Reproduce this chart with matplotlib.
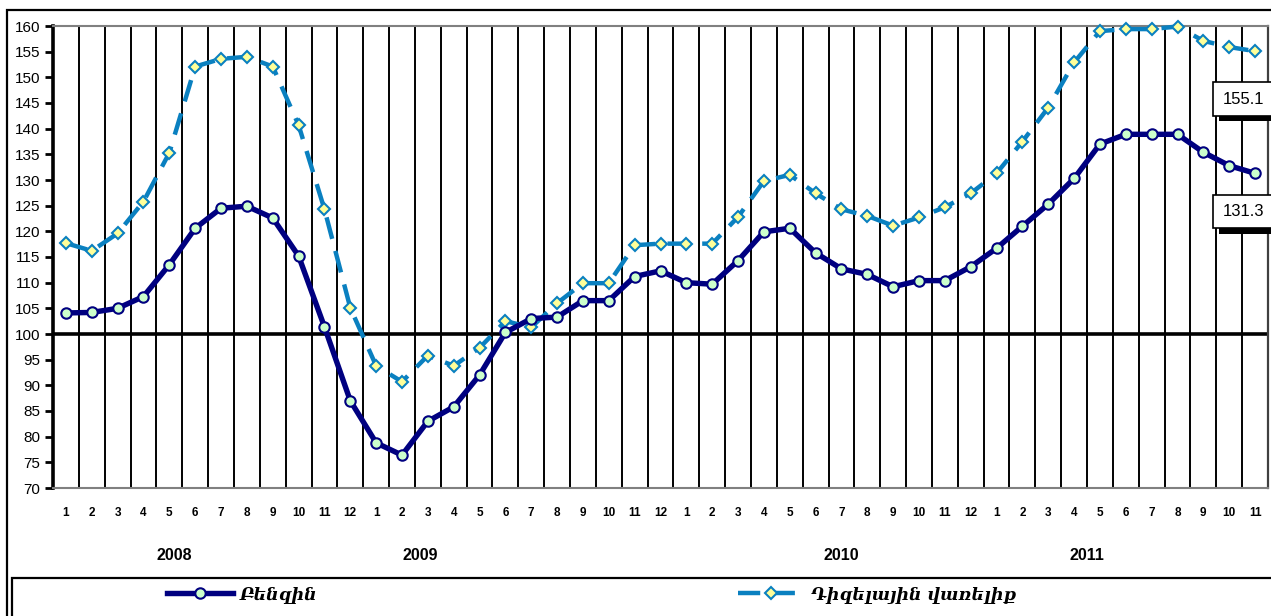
import numpy as np
import matplotlib
matplotlib.use("Agg")
import matplotlib.pyplot as plt
import matplotlib.patheffects as pe
from matplotlib.patches import Rectangle

months = list(range(1, 13)) * 3 + list(range(1, 12))
years = ["2008", "2009", "2010", "2011"]

benzin = [104.1, 104.2, 105.0, 107.3, 113.5, 120.6, 124.5, 124.9, 122.6, 115.2, 101.4, 87.0,
          78.8, 76.4, 83.0, 85.8, 92.0, 100.3, 103.0, 103.3, 106.5, 106.5, 111.2, 112.3,
          110.0, 109.7, 114.3, 119.9, 120.6, 115.8, 112.7, 111.6, 109.2, 110.4, 110.4, 113.1,
          116.7, 121.0, 125.3, 130.3, 137.0, 138.9, 138.9, 138.9, 135.4, 132.8, 131.3]
diesel = [117.7, 116.2, 119.6, 125.8, 135.3, 152.1, 153.6, 154.0, 152.1, 140.7, 124.3, 105.1,
          93.8, 90.7, 95.8, 93.8, 97.3, 102.5, 101.3, 106.0, 109.9, 109.9, 117.3, 117.6,
          117.6, 117.6, 122.8, 129.8, 131.0, 127.4, 124.3, 123.0, 121.1, 122.7, 124.7, 127.4,
          131.3, 137.5, 144.1, 152.9, 159.0, 159.4, 159.4, 159.9, 157.1, 155.9, 155.1]
labels = ["Բենզին", "Դիզելային վառելիք"]

year_x = [4.2, 13.7, 30.0, 39.5]

plt.rcParams['font.family'] = ['Liberation Sans', 'DejaVu Sans']

W, H = 1271, 616
fig = plt.figure(figsize=(W / 100, H / 100), dpi=100)
ax = fig.add_axes([53 / W, 1 - 488 / H, 1215 / W, 462 / H])

x = np.arange(len(benzin))

# outer frame and legend box
fig.patches.append(Rectangle((7 / W, -0.1), 1.1, 1 - 10 / H + 0.1, transform=fig.transFigure,
                             fill=False, ec='black', lw=1.6, zorder=0))
fig.patches.append(Rectangle((12 / W, -0.1), 1.1, 0.1 + (616 - 578) / H, transform=fig.transFigure,
                             fill=False, ec='black', lw=1.6, zorder=0))

ax.set_xlim(-0.5, len(x) - 0.5)
ax.set_ylim(70, 160)
ax.set_yticks(np.arange(70, 161, 5))
ax.set_xticks(x)
ax.set_xticklabels([str(m) for m in months], fontsize=8.5, fontweight='bold')
ax.set_xticks(np.arange(-0.5, len(x), 1), minor=True)
ax.tick_params(axis='x', which='major', length=0, pad=14)
ax.tick_params(axis='x', which='minor', length=0)
ax.tick_params(axis='y', length=6, width=2, labelsize=11, pad=3)
ax.grid(which='minor', axis='x', color='black', lw=1.4)
ax.set_axisbelow(True)
ax.axhline(100, color='black', lw=2.6, zorder=2)

for s in ['top', 'bottom']:
    ax.spines[s].set_color('#808080')
    ax.spines[s].set_linewidth(1.5)
ax.spines['left'].set_linewidth(2.6)
ax.spines['right'].set_color('#404040')
ax.spines['right'].set_linewidth(1.6)

l1, = ax.plot(x, benzin, color='#000080', lw=3.9, marker='o', ms=7.5,
              mfc='#CCFFCC', mec='#000080', mew=1.5, zorder=4, clip_on=False)
l2, = ax.plot(x, diesel, color='#0A80C0', lw=3.2, dashes=(5, 2.8), marker='D', ms=6.5,
              mfc='#FFFF99', mec='#0A80C0', mew=1.5, zorder=3, clip_on=False)

# end-of-series value boxes
for val, dy in [(diesel[-1], -48), (benzin[-1], -38)]:
    t = ax.annotate(f"{val:.1f}", (x[-1], val), xytext=(-12, dy), textcoords='offset pixels',
                    ha='center', va='center', fontsize=12,
                    bbox=dict(boxstyle='square,pad=0.55', fc='white', ec='black', lw=1.2),
                    zorder=6, annotation_clip=False)
    t.get_bbox_patch().set_path_effects([
        pe.SimplePatchShadow(offset=(4, -4), shadow_rgbFace='black', alpha=1), pe.Normal()])

for yx, yr in zip(year_x, years):
    ax.text(yx, -0.147, yr, transform=ax.get_xaxis_transform(), ha='center', va='center',
            fontsize=11.5, fontweight='bold')

legend_font = dict(family=['DejaVu Serif', 'DejaVu Sans'], style='italic', weight='bold', size=12.5)
for handle, lab, lx in [(l1, labels[0], 167), (l2, labels[1], 738)]:
    fig.legend([handle], [lab], loc='center left', bbox_to_anchor=(lx / W, 1 - 595 / H),
               frameon=False, borderpad=0, borderaxespad=0, handlelength=3.8,
               handletextpad=0.4, prop=legend_font)

fig.savefig('out.png', dpi=100)
